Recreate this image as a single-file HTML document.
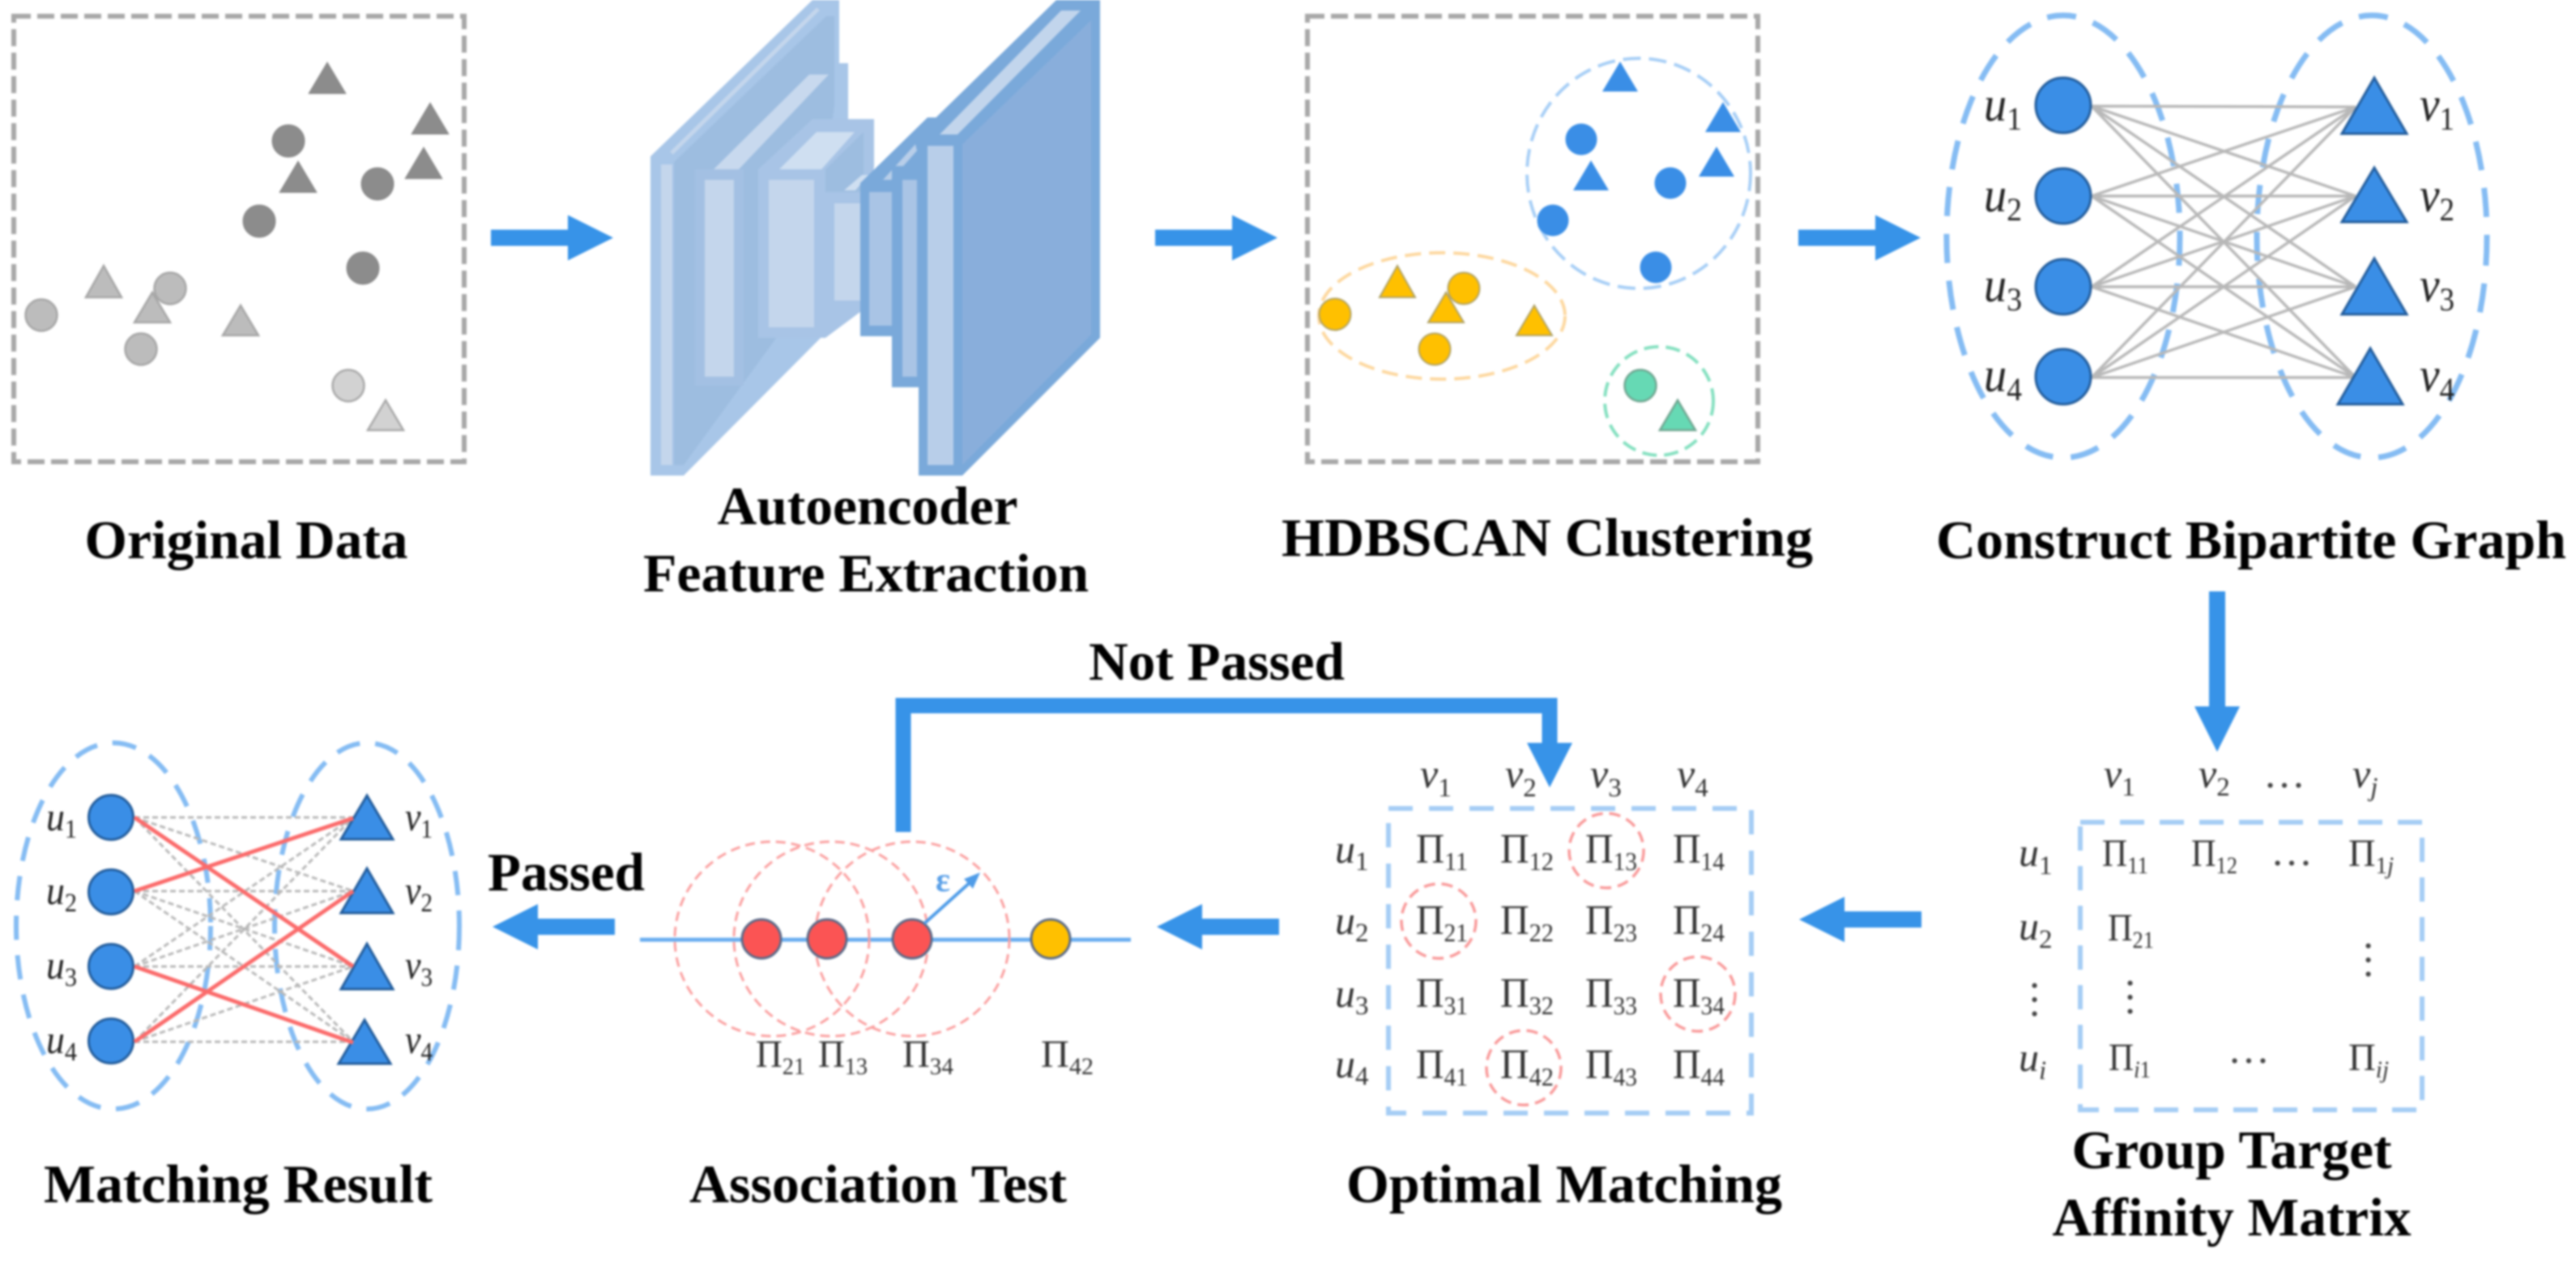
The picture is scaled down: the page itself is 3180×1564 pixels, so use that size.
<!DOCTYPE html>
<html><head><meta charset="utf-8"><style>
html,body{margin:0;padding:0;background:#fff;width:3180px;height:1564px;overflow:hidden}
svg{display:block;filter:blur(1.2px)}
text{font-family:"Liberation Serif",serif}
.t{font-size:67px;font-weight:bold;fill:#000;text-anchor:middle}
.p{font-size:52px;fill:#333}
.p tspan{font-size:32px}
.q{font-size:48px;fill:#333}
.q tspan{font-size:30px}
.h{font-size:50px;font-style:italic;fill:#333}
.h tspan{font-size:33px;font-style:normal}
.g{font-size:60px;font-style:italic;fill:#222}
.g tspan{font-size:40px;font-style:normal}
.m{font-size:50px;font-style:italic;fill:#222}
.m tspan{font-size:33px;font-style:normal}
.d{font-size:52px;fill:#444;text-anchor:middle}
</style></head><body>
<svg width="3180" height="1564" viewBox="0 0 3180 1564" xmlns="http://www.w3.org/2000/svg">
<defs>
<path id="ar" d="M0,-10H95V-28L151,0L95,28V10H0Z" fill="#3793e8"/>
<g id="ln4" fill="none">
<path d="M2582,131L2908,132M2582,131L2908,242M2582,131L2908,354M2582,131L2908,466M2582,242L2908,132M2582,242L2908,242M2582,242L2908,354M2582,242L2908,466M2582,354L2908,132M2582,354L2908,242M2582,354L2908,354M2582,354L2908,466M2582,466L2908,132M2582,466L2908,242M2582,466L2908,354M2582,466L2908,466"/>
</g>
</defs>
<rect width="3180" height="1564" fill="#fff"/>

<!-- panel 1 -->
<rect x="17" y="20" width="556" height="550" fill="none" stroke="#a8a8a8" stroke-width="6" stroke-dasharray="21 8"/>
<g fill="#8c8c8c" stroke="#8a8a8a" stroke-width="2">
<polygon points="404,78 382,115 426,115"/><polygon points="531,128 509,165 553,165"/><polygon points="523,183 501,220 545,220"/><polygon points="368,200 346,237 390,237"/>
<circle cx="356" cy="174" r="19.5"/><circle cx="466" cy="227" r="19.5"/><circle cx="320" cy="273" r="19.5"/><circle cx="448" cy="331" r="19.5"/>
</g>
<g fill="#bcbcbc" stroke="#a6a6a6" stroke-width="2.5">
<circle cx="210" cy="356" r="19.5"/>
<polygon points="128,328 106,367 150,367"/><polygon points="188,361 166,398 210,398"/><polygon points="297,377 275,414 319,414"/>
<circle cx="51" cy="389" r="19.5"/><circle cx="174" cy="431" r="19.5"/>
</g>
<g fill="#d2d2d2" stroke="#a8a8a8" stroke-width="2.5">
<circle cx="430" cy="476" r="19.5"/><polygon points="476,494 454,531 498,531"/>
</g>
<use href="#ar" x="606" y="293.5"/>
<text class="t" x="304" y="689" textLength="399" lengthAdjust="spacingAndGlyphs">Original Data</text>

<!-- autoencoder -->
<polygon points="803,193 1003,0 1036,0 1036,78 1047,78 1047,147 1079,147 1079,203 1062,385 1045,385 844,587 803,587" fill="#a8c6e8"/>
<polygon points="832,200 1020,20 1030,20 1030,130 1000,360 844,574 832,574" fill="#9dbde0"/>
<polyline points="829,189 1010,11" fill="none" stroke="#c4d6ec" stroke-width="5"/>
<rect x="816" y="203" width="14" height="371" fill="#c4d6ec"/>
<rect x="858" y="209" width="60" height="267" fill="#a3c0e3"/>
<rect x="870" y="222" width="36" height="243" fill="#c4d6ec"/>
<polygon points="881,209 999,92 1023,92 912,209" fill="#c8d9ee"/>
<polygon points="936,209 1003,147 1079,147 1079,205 1062,385 1019,417 936,417" fill="#a8c4e6"/>
<polygon points="1019,209 1066,163 1066,237 1019,300" fill="#9dbde0"/>
<rect x="949" y="222" width="56" height="182" fill="#c4d6ec"/>
<polygon points="962,209 1008,163 1055,163 1014,209" fill="#cfdff1"/>
<rect x="1019" y="237" width="43" height="148" fill="#a8c4e6"/>
<rect x="1030" y="251" width="33" height="120" fill="#c4d6ec"/>
<polygon points="1042,235 1064,216 1072,216 1056,235" fill="#cfdff1"/>
<polygon points="1062,226 1145,145 1165,145 1165,300 1101,415 1062,415" fill="#7aa9da"/>
<rect x="1073" y="237" width="28" height="165" fill="#a9c4e5"/>
<polygon points="1090,222 1130,178 1132,186 1100,222" fill="#b8cee9"/>
<rect x="1101" y="205" width="33" height="273" fill="#7aa9da"/>
<rect x="1114" y="222" width="18" height="243" fill="#a9c4e5"/>
<polygon points="1134,166 1304,0 1358,0 1358,417 1188,587 1134,587" fill="#7aa9da"/>
<polygon points="1188,178 1347,25 1347,413 1188,574" fill="#89aedb"/>
<polygon points="1160,166 1310,13 1334,13 1182,166" fill="#c2d5ec"/>
<rect x="1145" y="180" width="32" height="394" fill="#b8cee9"/>
<text class="t" x="1071" y="647" textLength="371" lengthAdjust="spacingAndGlyphs">Autoencoder</text>
<text class="t" x="1069" y="730" textLength="550" lengthAdjust="spacingAndGlyphs">Feature Extraction</text>
<use href="#ar" x="1426" y="293.5"/>

<!-- panel 3 -->
<rect x="1614" y="20" width="556" height="550" fill="none" stroke="#a8a8a8" stroke-width="6" stroke-dasharray="21 8"/>
<ellipse cx="2023" cy="214" rx="138" ry="142" fill="none" stroke="#a8cff6" stroke-width="4" stroke-dasharray="22 10"/>
<ellipse cx="1780" cy="390" rx="152" ry="78" fill="none" stroke="#fdd8a0" stroke-width="4" stroke-dasharray="20 10"/>
<ellipse cx="2048" cy="495" rx="67" ry="67" fill="none" stroke="#85e0c0" stroke-width="4" stroke-dasharray="18 9"/>
<g fill="#3a8ee6">
<polygon points="2000,76 1978,113 2022,113"/><polygon points="2127,126 2105,163 2149,163"/><polygon points="2119,181 2097,218 2141,218"/><polygon points="1964,198 1942,235 1986,235"/>
<circle cx="1952" cy="172" r="19.5"/><circle cx="2062" cy="226" r="19.5"/><circle cx="1917" cy="272" r="19.5"/><circle cx="2044" cy="330" r="19.5"/>
</g>
<g fill="#ffc000" stroke="#b0a266" stroke-width="2">
<circle cx="1807" cy="356" r="19.5"/>
<polygon points="1725,328 1703,367 1747,367"/><polygon points="1785,361 1763,398 1807,398"/><polygon points="1894,377 1872,414 1916,414"/>
<circle cx="1648" cy="388" r="19.5"/><circle cx="1771" cy="431" r="19.5"/>
</g>
<g fill="#66d9b4" stroke="#6fa590" stroke-width="2.5">
<circle cx="2025" cy="476" r="19.5"/><polygon points="2071,494 2049,531 2093,531"/>
</g>
<text class="t" x="1910" y="686" textLength="656" lengthAdjust="spacingAndGlyphs">HDBSCAN Clustering</text>
<use href="#ar" x="2220" y="293.5"/>

<!-- panel 4 -->
<g fill="none" stroke="#85bcf3" stroke-width="7" stroke-dasharray="36 22">
<ellipse cx="2547" cy="292" rx="144" ry="273"/>
<ellipse cx="2928" cy="292" rx="142" ry="273"/>
</g>
<use href="#ln4" stroke="#b8b8b8" stroke-width="3.5"/>
<g fill="#3a8ee6" stroke="#235d9c" stroke-width="3">
<circle cx="2547" cy="130" r="34"/><circle cx="2547" cy="242" r="34"/><circle cx="2547" cy="354" r="34"/><circle cx="2547" cy="465" r="34"/>
<polygon points="2931,96 2891,165 2971,165"/><polygon points="2931,207 2891,274 2971,274"/><polygon points="2931,319 2891,388 2971,388"/><polygon points="2926,430 2886,499 2966,499"/>
</g>
<text class="g" x="2449" y="149" textLength="47" lengthAdjust="spacingAndGlyphs">u<tspan dy="11">1</tspan></text>
<text class="g" x="2449" y="261" textLength="47" lengthAdjust="spacingAndGlyphs">u<tspan dy="11">2</tspan></text>
<text class="g" x="2449" y="372" textLength="47" lengthAdjust="spacingAndGlyphs">u<tspan dy="11">3</tspan></text>
<text class="g" x="2449" y="483" textLength="47" lengthAdjust="spacingAndGlyphs">u<tspan dy="11">4</tspan></text>
<text class="g" x="2987" y="149" textLength="43" lengthAdjust="spacingAndGlyphs">v<tspan dy="11">1</tspan></text>
<text class="g" x="2987" y="261" textLength="43" lengthAdjust="spacingAndGlyphs">v<tspan dy="11">2</tspan></text>
<text class="g" x="2987" y="372" textLength="43" lengthAdjust="spacingAndGlyphs">v<tspan dy="11">3</tspan></text>
<text class="g" x="2987" y="483" textLength="43" lengthAdjust="spacingAndGlyphs">v<tspan dy="11">4</tspan></text>
<text class="t" x="2779" y="689" textLength="778" lengthAdjust="spacingAndGlyphs">Construct Bipartite Graph</text>

<!-- down arrow -->
<path d="M2727,730H2747V872H2765L2737,928L2709,872H2727Z" fill="#3793e8"/>

<!-- affinity matrix -->
<rect x="2568" y="1015" width="422" height="355" fill="none" stroke="#a5cdf5" stroke-width="6" stroke-dasharray="30 19"/>
<text class="h" x="2597" y="972">v<tspan dy="10">1</tspan></text>
<text class="h" x="2714" y="972">v<tspan dy="10">2</tspan></text>
<text class="d" x="2820" y="972">…</text>
<text class="h" x="2904" y="972">v<tspan dy="10" style="font-style:italic">j</tspan></text>
<text class="h" x="2492" y="1069">u<tspan dy="10">1</tspan></text>
<text class="h" x="2492" y="1160">u<tspan dy="10">2</tspan></text>
<text class="d" x="2509" y="1234" transform="rotate(90 2509 1234)">…</text>
<text class="h" x="2492" y="1322">u<tspan dy="10" style="font-style:italic">i</tspan></text>
<text class="q" x="2595" y="1069" textLength="57" lengthAdjust="spacingAndGlyphs">Π<tspan dy="9">11</tspan></text>
<text class="q" x="2705" y="1069" textLength="57" lengthAdjust="spacingAndGlyphs">Π<tspan dy="9">12</tspan></text>
<text class="d" x="2829" y="1068">…</text>
<text class="q" x="2899" y="1069" textLength="56" lengthAdjust="spacingAndGlyphs">Π<tspan dy="9">1<tspan style="font-style:italic">j</tspan></tspan></text>
<text class="q" x="2602" y="1161" textLength="57" lengthAdjust="spacingAndGlyphs">Π<tspan dy="9">21</tspan></text>
<text class="d" x="2627" y="1231" transform="rotate(90 2627 1231)">…</text>
<text class="d" x="2921" y="1185" transform="rotate(90 2921 1185)">…</text>
<text class="q" x="2603" y="1321" textLength="52" lengthAdjust="spacingAndGlyphs">Π<tspan dy="9"><tspan style="font-style:italic">i</tspan>1</tspan></text>
<text class="d" x="2776" y="1312">…</text>
<text class="q" x="2899" y="1321" textLength="50" lengthAdjust="spacingAndGlyphs">Π<tspan dy="9" style="font-style:italic">ij</tspan></text>
<text class="t" x="2755" y="1442" textLength="395" lengthAdjust="spacingAndGlyphs">Group Target</text>
<text class="t" x="2755" y="1525" textLength="443" lengthAdjust="spacingAndGlyphs">Affinity Matrix</text>
<use href="#ar" transform="translate(2372,1135) scale(-1,1)"/>

<!-- optimal matching -->
<rect x="1714" y="998" width="448" height="376" fill="none" stroke="#a5cdf5" stroke-width="6" stroke-dasharray="30 20"/>
<text class="h" x="1753" y="972">v<tspan dy="11">1</tspan></text>
<text class="h" x="1858" y="972">v<tspan dy="11">2</tspan></text>
<text class="h" x="1963" y="972">v<tspan dy="11">3</tspan></text>
<text class="h" x="2070" y="972">v<tspan dy="11">4</tspan></text>
<text class="h" x="1648" y="1065">u<tspan dy="9">1</tspan></text>
<text class="h" x="1648" y="1153">u<tspan dy="9">2</tspan></text>
<text class="h" x="1648" y="1243">u<tspan dy="9">3</tspan></text>
<text class="h" x="1648" y="1330">u<tspan dy="9">4</tspan></text>
<text class="p" x="1748" y="1065" textLength="64" lengthAdjust="spacingAndGlyphs">Π<tspan dy="9">11</tspan></text>
<text class="p" x="1852" y="1065" textLength="66" lengthAdjust="spacingAndGlyphs">Π<tspan dy="9">12</tspan></text>
<text class="p" x="1957" y="1065" textLength="64" lengthAdjust="spacingAndGlyphs">Π<tspan dy="9">13</tspan></text>
<text class="p" x="2065" y="1065" textLength="64" lengthAdjust="spacingAndGlyphs">Π<tspan dy="9">14</tspan></text>
<text class="p" x="1748" y="1153" textLength="64" lengthAdjust="spacingAndGlyphs">Π<tspan dy="9">21</tspan></text>
<text class="p" x="1852" y="1153" textLength="66" lengthAdjust="spacingAndGlyphs">Π<tspan dy="9">22</tspan></text>
<text class="p" x="1957" y="1153" textLength="64" lengthAdjust="spacingAndGlyphs">Π<tspan dy="9">23</tspan></text>
<text class="p" x="2065" y="1153" textLength="64" lengthAdjust="spacingAndGlyphs">Π<tspan dy="9">24</tspan></text>
<text class="p" x="1748" y="1243" textLength="64" lengthAdjust="spacingAndGlyphs">Π<tspan dy="9">31</tspan></text>
<text class="p" x="1852" y="1243" textLength="66" lengthAdjust="spacingAndGlyphs">Π<tspan dy="9">32</tspan></text>
<text class="p" x="1957" y="1243" textLength="64" lengthAdjust="spacingAndGlyphs">Π<tspan dy="9">33</tspan></text>
<text class="p" x="2065" y="1243" textLength="64" lengthAdjust="spacingAndGlyphs">Π<tspan dy="9">34</tspan></text>
<text class="p" x="1748" y="1331" textLength="64" lengthAdjust="spacingAndGlyphs">Π<tspan dy="9">41</tspan></text>
<text class="p" x="1852" y="1331" textLength="66" lengthAdjust="spacingAndGlyphs">Π<tspan dy="9">42</tspan></text>
<text class="p" x="1957" y="1331" textLength="64" lengthAdjust="spacingAndGlyphs">Π<tspan dy="9">43</tspan></text>
<text class="p" x="2065" y="1331" textLength="64" lengthAdjust="spacingAndGlyphs">Π<tspan dy="9">44</tspan></text>
<g fill="none" stroke="#f99a9a" stroke-width="3.5" stroke-dasharray="14 8">
<circle cx="1983" cy="1050" r="46"/><circle cx="1776" cy="1137" r="46"/><circle cx="2096" cy="1227" r="46"/><circle cx="1881" cy="1318" r="46"/>
</g>
<text class="t" x="1931" y="1484" textLength="538" lengthAdjust="spacingAndGlyphs">Optimal Matching</text>
<use href="#ar" transform="translate(1579,1144) scale(-1,1)"/>

<!-- loop -->
<path d="M1115,1027V871H1913V922" fill="none" stroke="#3793e8" stroke-width="19"/>
<polygon points="1885,917 1941,917 1913,972" fill="#3793e8"/>
<text class="t" x="1502" y="839" textLength="316" lengthAdjust="spacingAndGlyphs">Not Passed</text>

<!-- association test -->
<line x1="790" y1="1160" x2="1396" y2="1160" stroke="#6aaef0" stroke-width="5"/>
<g fill="none" stroke="#fba0a0" stroke-width="3" stroke-dasharray="12 7">
<circle cx="953" cy="1159" r="120"/><circle cx="1026" cy="1159" r="120"/><circle cx="1126" cy="1159" r="120"/>
</g>
<g stroke="#5a6a88" stroke-width="3">
<circle cx="940" cy="1159" r="24" fill="#fb5454"/><circle cx="1021" cy="1159" r="24" fill="#fb5454"/><circle cx="1126" cy="1159" r="24" fill="#fb5454"/><circle cx="1297" cy="1159" r="24" fill="#ffc000"/>
</g>
<line x1="1141" y1="1140" x2="1200" y2="1087" stroke="#4f9ce8" stroke-width="4"/>
<polygon points="1210,1077 1190,1085 1201,1097" fill="#4f9ce8"/>
<text x="1155" y="1100" font-size="42" font-weight="bold" fill="#5aa0e8">ε</text>
<text class="q" x="933" y="1317" textLength="61" lengthAdjust="spacingAndGlyphs">Π<tspan dy="9">21</tspan></text>
<text class="q" x="1010" y="1317" textLength="61" lengthAdjust="spacingAndGlyphs">Π<tspan dy="9">13</tspan></text>
<text class="q" x="1114" y="1317" textLength="63" lengthAdjust="spacingAndGlyphs">Π<tspan dy="9">34</tspan></text>
<text class="q" x="1285" y="1317" textLength="65" lengthAdjust="spacingAndGlyphs">Π<tspan dy="9">42</tspan></text>
<text class="t" x="1084" y="1484" textLength="466" lengthAdjust="spacingAndGlyphs">Association Test</text>
<use href="#ar" transform="translate(759,1144) scale(-1,1)"/>
<text class="t" x="699" y="1099" textLength="194" lengthAdjust="spacingAndGlyphs">Passed</text>

<!-- matching result -->
<g fill="none" stroke="#85bcf3" stroke-width="6" stroke-dasharray="30 19">
<ellipse cx="140" cy="1143" rx="120" ry="226"/>
<ellipse cx="453" cy="1143" rx="114" ry="226"/>
</g>
<path d="M166,1009L436,1009M166,1009L436,1100M166,1009L436,1286M166,1100L436,1100M166,1100L436,1193M166,1100L436,1286M166,1193L436,1009M166,1193L436,1100M166,1193L436,1193M166,1286L436,1009M166,1286L436,1193M166,1286L436,1286" fill="none" stroke="#b8b8b8" stroke-width="3" stroke-dasharray="7 4"/>
<g fill="#3a8ee6" stroke="#235d9c" stroke-width="3">
<circle cx="137" cy="1009" r="27.5"/><circle cx="137" cy="1101" r="27.5"/><circle cx="137" cy="1193" r="27.5"/><circle cx="137" cy="1285" r="27.5"/>
<polygon points="453,982 421,1036 485,1036"/><polygon points="453,1072 421,1127 485,1127"/><polygon points="453,1165 421,1221 485,1221"/><polygon points="450,1259 418,1313 482,1313"/>
</g>
<path d="M166,1009L436,1193M166,1100L436,1010M166,1193L436,1287M166,1286L436,1100" fill="none" stroke="#fb6b6b" stroke-width="5"/>
<text class="m" x="57" y="1025" textLength="38" lengthAdjust="spacingAndGlyphs">u<tspan dy="9">1</tspan></text>
<text class="m" x="57" y="1116" textLength="38" lengthAdjust="spacingAndGlyphs">u<tspan dy="9">2</tspan></text>
<text class="m" x="57" y="1208" textLength="38" lengthAdjust="spacingAndGlyphs">u<tspan dy="9">3</tspan></text>
<text class="m" x="57" y="1300" textLength="38" lengthAdjust="spacingAndGlyphs">u<tspan dy="9">4</tspan></text>
<text class="m" x="500" y="1025" textLength="34" lengthAdjust="spacingAndGlyphs">v<tspan dy="9">1</tspan></text>
<text class="m" x="500" y="1116" textLength="34" lengthAdjust="spacingAndGlyphs">v<tspan dy="9">2</tspan></text>
<text class="m" x="500" y="1208" textLength="34" lengthAdjust="spacingAndGlyphs">v<tspan dy="9">3</tspan></text>
<text class="m" x="500" y="1300" textLength="34" lengthAdjust="spacingAndGlyphs">v<tspan dy="9">4</tspan></text>
<text class="t" x="294" y="1484" textLength="480" lengthAdjust="spacingAndGlyphs">Matching Result</text>
</svg>
</body></html>
